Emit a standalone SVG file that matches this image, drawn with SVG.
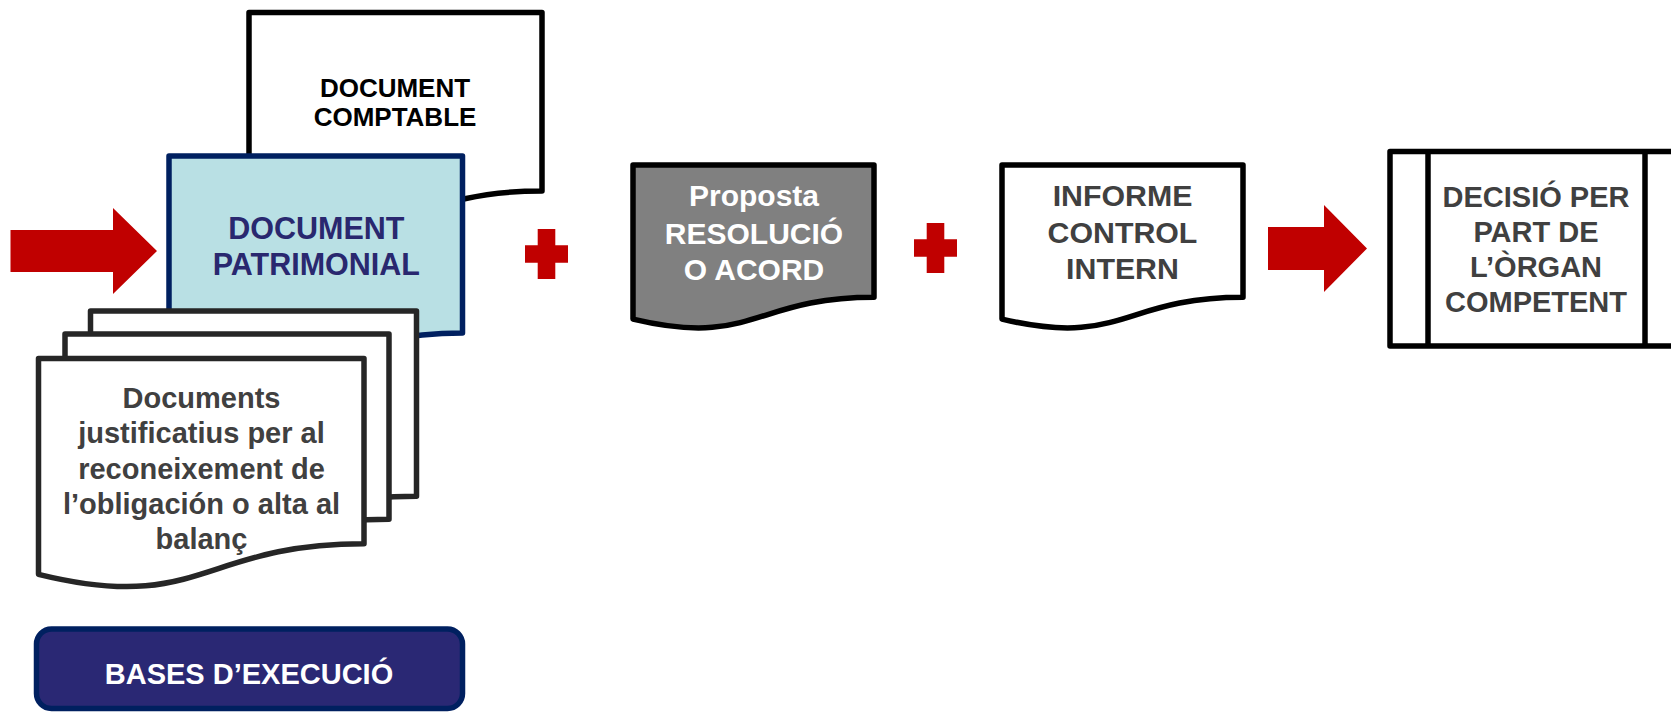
<svg xmlns="http://www.w3.org/2000/svg" width="1671" height="713" viewBox="0 0 1671 713">
  <style>
    .doc { stroke-width: 5.5; stroke-linejoin: round; }
    .black { fill: #ffffff; stroke: #000000; }
    .stack { fill: #ffffff; stroke: #262626; }
    .t { font-family: "Liberation Sans", Arial, sans-serif; font-weight: bold; text-anchor: middle; }
    .red { fill: #C00000; }
  </style>
  <rect width="1671" height="713" fill="#ffffff"/>

  <g id="doc-comptable">
    <path class="doc black" d="M249 12.5 H542 V191 C395.5 191 395.5 259.1 249 220.4 Z"/>
    <text class="t" font-size="26" fill="#000000"><tspan x="395" y="97">DOCUMENT</tspan><tspan x="395" y="126">COMPTABLE</tspan></text>
  </g>

  <g id="doc-patrimonial">
    <path class="doc" fill="#B9E0E4" stroke="#002060" stroke-width="5" d="M169 156 H462.5 V333 C315.75 333 315.75 400.5 169 362.1 Z"/>
    <text class="t" font-size="30.5" fill="#29286F"><tspan x="316.3" y="238.5">DOCUMENT</tspan><tspan x="316.3" y="275">PATRIMONIAL</tspan></text>
  </g>

  <g id="doc-justificatius">
    <path class="doc stack" d="M90.5 311 H416.5 V496.3 C253.5 496.3 253.5 566.9 90.5 526.8 Z"/>
    <path class="doc stack" d="M65 334 H389 V519.3 C227 519.3 227 589.9 65 549.8 Z"/>
    <path class="doc stack" d="M38.5 358.5 H364 V543.8 C201.25 543.8 201.25 614.4 38.5 574.3 Z"/>
    <text class="t" font-size="29" fill="#404040"><tspan x="201.5" y="407.5">Documents</tspan><tspan x="201.5" y="443">justificatius per al</tspan><tspan x="201.5" y="478.5">reconeixement de</tspan><tspan x="201.5" y="514">l’obligación o alta al</tspan><tspan x="201.5" y="549">balanç</tspan></text>
  </g>

  <g id="bases-execucio">
    <rect x="36.5" y="629" width="426" height="79.5" rx="15" ry="15" fill="#2A2874" stroke="#002060" stroke-width="5.5"/>
    <text class="t" font-size="29" fill="#ffffff" x="249" y="684">BASES D’EXECUCIÓ</text>
  </g>

  <g id="proposta">
    <path class="doc" fill="#808080" stroke="#000000" d="M633 165 H874 V297.3 C753.5 297.3 753.5 347.8 633 319.1 Z"/>
    <text class="t" font-size="30" fill="#ffffff"><tspan x="754" y="206">Proposta</tspan><tspan x="754" y="243.5">RESOLUCIÓ</tspan><tspan x="754" y="280">O ACORD</tspan></text>
  </g>

  <g id="informe">
    <path class="doc black" d="M1002 165 H1243 V297.3 C1122.5 297.3 1122.5 347.8 1002 319.1 Z"/>
    <text class="t" font-size="30.3" fill="#404040"><tspan x="1122.5" y="206">INFORME</tspan><tspan x="1122.5" y="242.5">CONTROL</tspan><tspan x="1122.5" y="279">INTERN</tspan></text>
  </g>

  <g id="decisio">
    <rect x="1390" y="151.5" width="293" height="194.5" fill="#ffffff" stroke="#000000" stroke-width="5.5" stroke-linejoin="round"/>
    <line x1="1428" y1="151.5" x2="1428" y2="346" stroke="#000000" stroke-width="5.5"/>
    <line x1="1645" y1="151.5" x2="1645" y2="346" stroke="#000000" stroke-width="5.5"/>
    <text class="t" font-size="29" fill="#404040"><tspan x="1536" y="207">DECISIÓ PER</tspan><tspan x="1536" y="242">PART DE</tspan><tspan x="1536" y="277">L’ÒRGAN</tspan><tspan x="1536" y="312">COMPETENT</tspan></text>
  </g>

  <g id="connectors">
    <path class="red" d="M10.5 230 H113 V208 L157 251 L113 294 V272 H10.5 Z"/>
    <path class="red" d="M537.7 229 H555.3 V245.2 H568 V262.8 H555.3 V279 H537.7 V262.8 H525 V245.2 H537.7 Z"/>
    <path class="red" d="M926.7 223 H944.3 V239.2 H957 V256.8 H944.3 V273 H926.7 V256.8 H914 V239.2 H926.7 Z"/>
    <path class="red" d="M1268 227 H1324 V205 L1367 248.5 L1324 292 V270 H1268 Z"/>
  </g>
</svg>
